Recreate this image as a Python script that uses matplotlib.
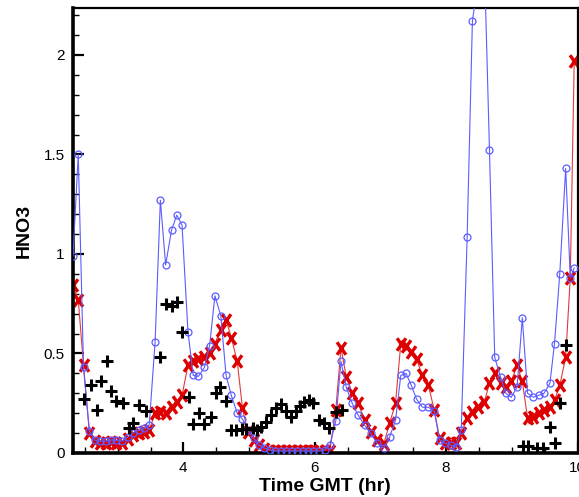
import matplotlib
matplotlib.use("Agg")
import matplotlib.pyplot as plt
from matplotlib.path import Path
from matplotlib.ticker import MultipleLocator, FuncFormatter

plt.rcParams['font.family'] = ['Liberation Sans', 'DejaVu Sans']

# shared time axis for the two line series (hours GMT)
time_hr = [2.32, 2.40, 2.48, 2.57, 2.65, 2.73, 2.82, 2.90, 2.98, 3.07,
           3.15, 3.23, 3.32, 3.40, 3.48, 3.57, 3.65, 3.73, 3.82, 3.90,
           3.98, 4.07, 4.15, 4.23, 4.32, 4.40, 4.48, 4.57, 4.65, 4.73,
           4.82, 4.90, 4.98, 5.07, 5.15, 5.23, 5.32, 5.40, 5.48, 5.57,
           5.65, 5.73, 5.82, 5.90, 5.98, 6.07, 6.15, 6.23, 6.32, 6.40,
           6.48, 6.57, 6.66, 6.76, 6.85, 6.95, 7.05, 7.14, 7.23, 7.31,
           7.39, 7.47, 7.55, 7.64, 7.73, 7.82, 7.90, 7.98, 8.07, 8.15,
           8.23, 8.32, 8.40, 8.48, 8.58, 8.66, 8.74, 8.83, 8.91, 8.99,
           9.08, 9.16, 9.24, 9.33, 9.41, 9.49, 9.58, 9.65, 9.73, 9.82,
           9.89, 9.95]

hno3_blue = [0.99, 1.50, 0.43, 0.11, 0.065, 0.06, 0.06, 0.065, 0.065, 0.06,
             0.08, 0.10, 0.115, 0.125, 0.14, 0.56, 1.27, 0.945, 1.12, 1.195,
             1.145, 0.61, 0.39, 0.385, 0.43, 0.54, 0.79, 0.69, 0.39, 0.29,
             0.20, 0.17, 0.115, 0.075, 0.04, 0.025, 0.015, 0.01, 0.01, 0.01,
             0.01, 0.01, 0.01, 0.01, 0.01, 0.01, 0.015, 0.04, 0.16, 0.46,
             0.33, 0.25, 0.19, 0.14, 0.10, 0.05, 0.025, 0.08, 0.165, 0.39,
             0.40, 0.34, 0.27, 0.23, 0.23, 0.21, 0.065, 0.05, 0.04, 0.03,
             0.115, 1.085, 2.17, 2.36, 2.50, 1.52, 0.48, 0.38, 0.30, 0.28,
             0.33, 0.68, 0.30, 0.28, 0.29, 0.30, 0.35, 0.55, 0.90, 1.43,
             0.88, 0.93]

hno3_red = [0.845, 0.77, 0.44, 0.10, 0.06, 0.05, 0.05, 0.055, 0.05, 0.05,
            0.07, 0.09, 0.10, 0.105, 0.115, 0.20, 0.205, 0.20, 0.23, 0.255,
            0.29, 0.44, 0.46, 0.47, 0.48, 0.50, 0.55, 0.62, 0.67, 0.58,
            0.46, 0.225, 0.105, 0.065, 0.04, 0.02, 0.01, 0.01, 0.01, 0.01,
            0.01, 0.01, 0.01, 0.01, 0.01, 0.01, 0.01, 0.01, 0.215, 0.53,
            0.38, 0.30, 0.25, 0.165, 0.105, 0.065, 0.045, 0.15, 0.25, 0.55,
            0.54, 0.51, 0.47, 0.39, 0.34, 0.215, 0.075, 0.05, 0.05, 0.05,
            0.10, 0.175, 0.205, 0.23, 0.255, 0.35, 0.40, 0.35, 0.33, 0.36,
            0.44, 0.36, 0.175, 0.18, 0.20, 0.215, 0.23, 0.265, 0.34, 0.48,
            0.88, 1.97]

# observations (black plus markers)
obs_time = [2.48, 2.59, 2.68, 2.75, 2.84, 2.90, 2.98, 3.08, 3.18, 3.23,
            3.32, 3.43, 3.64, 3.74, 3.83, 3.91, 3.98, 4.08, 4.14, 4.24,
            4.32, 4.42, 4.50, 4.56, 4.65, 4.73, 4.80, 4.89, 4.95, 5.06,
            5.12, 5.18, 5.26, 5.33, 5.41, 5.48, 5.56, 5.64, 5.71, 5.77,
            5.83, 5.91, 5.98, 6.06, 6.14, 6.21, 6.32, 6.41,
            9.17, 9.24, 9.39, 9.47, 9.58, 9.65, 9.74, 9.82]
obs_hno3 = [0.27, 0.34, 0.215, 0.36, 0.46, 0.31, 0.26, 0.25, 0.125, 0.15,
            0.24, 0.21, 0.48, 0.75, 0.74, 0.76, 0.61, 0.28, 0.145, 0.20,
            0.145, 0.18, 0.30, 0.33, 0.26, 0.115, 0.115, 0.12, 0.12, 0.125,
            0.115, 0.13, 0.155, 0.19, 0.225, 0.245, 0.21, 0.18, 0.21, 0.235,
            0.255, 0.265, 0.25, 0.165, 0.15, 0.125, 0.205, 0.215,
            0.035, 0.035, 0.025, 0.025, 0.13, 0.05, 0.25, 0.545]

# tall letter-like X marker
x_marker = Path([(-0.72, -1.0), (0.72, 1.0), (-0.72, 1.0), (0.72, -1.0)],
                [Path.MOVETO, Path.LINETO, Path.MOVETO, Path.LINETO])

fig = plt.figure(figsize=(5.79, 4.97), dpi=100)
ax = fig.add_axes([73/579, 1 - 453/497, (577.5 - 73)/579, (453 - 8)/497])

ax.plot(time_hr, hno3_red, color='#e03a3a', lw=0.8, marker=x_marker, ms=9,
        mew=2.4, mec='#dd0000', mfc='none', zorder=2)
ax.plot(time_hr, hno3_blue, color='#5c5cff', lw=0.8, marker='o', ms=5,
        mfc='none', mew=0.9, mec='#5c5cff', zorder=3)
ax.plot(obs_time, obs_hno3, ls='none', marker='+', ms=8, mew=2.2,
        color='black', zorder=4)

ax.set_xlim(2.32, 10.0)
ax.set_ylim(0, 2.236)

ax.xaxis.set_major_locator(MultipleLocator(2))
ax.xaxis.set_minor_locator(MultipleLocator(0.5))
ax.yaxis.set_major_locator(MultipleLocator(0.5))
ax.yaxis.set_minor_locator(MultipleLocator(0.1))
ax.yaxis.set_major_formatter(FuncFormatter(lambda v, p: f"{v:g}"))

ax.tick_params(which='major', direction='in', length=8, width=1.6,
               labelsize=11, pad=6, top=False, right=False)
ax.tick_params(which='minor', direction='in', length=4, width=1.0,
               top=False, right=False)

ax.spines['left'].set_linewidth(2.6)
ax.spines['bottom'].set_linewidth(2.6)
ax.spines['top'].set_linewidth(1.6)
ax.spines['right'].set_linewidth(1.6)

ax.set_xlabel('Time GMT (hr)', fontsize=14, fontweight='bold', labelpad=2)
ax.set_ylabel('HNO3', fontsize=14, fontweight='bold', labelpad=8)

fig.savefig('out.png', dpi=100)
